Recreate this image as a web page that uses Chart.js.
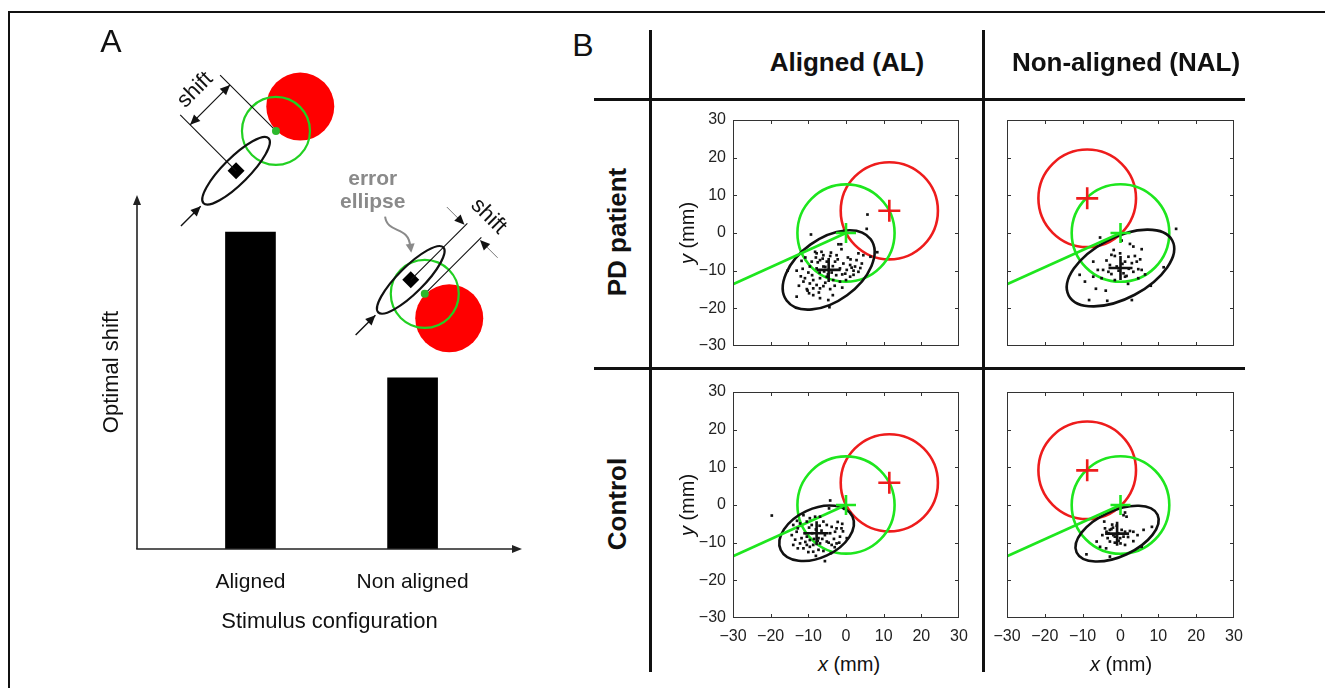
<!DOCTYPE html>
<html>
<head>
<meta charset="utf-8">
<script src="https://cdn.jsdelivr.net/npm/chart.js@4.4.1/dist/chart.umd.min.js"></script>
<style>
  body { margin: 0; background: #fff; width: 1325px; height: 688px; overflow: hidden; position: relative;
         font-family: "Liberation Sans", Arial, sans-serif; color: #111; }
  canvas { position: absolute; }
  .t { position: absolute; transform: translate(-50%, -50%); white-space: nowrap; }
  .rot { transform: translate(-50%, -50%) rotate(-90deg); }
  .rule { position: absolute; background: #111; }
  .big { font-size: 32px; }
  .head { font-size: 26px; font-weight: bold; }
  .ax { font-size: 20px; }
</style>
</head>
<body>
<!-- frame and table rules -->
<div class="rule" style="left:8px;top:11px;width:1317px;height:2px"></div>
<div class="rule" style="left:8px;top:11px;width:2px;height:677px"></div>
<div class="rule" style="left:649px;top:30px;width:3px;height:642px"></div>
<div class="rule" style="left:982px;top:30px;width:3px;height:642px"></div>
<div class="rule" style="left:594px;top:98px;width:651px;height:3px"></div>
<div class="rule" style="left:594px;top:367px;width:651px;height:3px"></div>

<canvas id="cA" width="560" height="688" style="left:0;top:0"></canvas>
<canvas id="cPdAl" width="328" height="262" style="left:650px;top:102px"></canvas>
<canvas id="cPdNal" width="276" height="262" style="left:977px;top:102px"></canvas>
<canvas id="cCtAl" width="328" height="276" style="left:650px;top:374px"></canvas>
<canvas id="cCtNal" width="276" height="276" style="left:977px;top:374px"></canvas>

<div class="t big" style="left:111px;top:41px">A</div>
<div class="t big" style="left:583px;top:45px">B</div>
<div class="t head" style="left:847px;top:62px">Aligned (AL)</div>
<div class="t head" style="left:1126px;top:62px">Non-aligned (NAL)</div>
<div class="t head rot" style="left:617px;top:232px">PD patient</div>
<div class="t head rot" style="left:617px;top:504px">Control</div>
<div class="t ax rot" style="left:687px;top:233px"><i>y</i> (mm)</div>
<div class="t ax rot" style="left:687px;top:505px"><i>y</i> (mm)</div>
<div class="t ax" style="left:849px;top:664px"><i>x</i> (mm)</div>
<div class="t ax" style="left:1121px;top:664px"><i>x</i> (mm)</div>

<script>
Chart.defaults.font.family = '"Liberation Sans", Arial, sans-serif';
Chart.defaults.color = '#111';

// --- Panel A: optimal shift per stimulus configuration ---
const categories = ['Aligned', 'Non aligned'];
const optimalShift = [1.0, 0.54];
const shiftAxisMax = 1.117;

// --- Panel B: data in mm ---
const axisTicks = [-30, -20, -10, 0, 10, 20, 30];
const innerTicks = [-20, -10, 0, 10, 20];
const sightLine = [[-30, -13.6], [0, 0]];
const greenCenter = [0, 0];
const circleRadius = 12.9;
const redCenterAL = [11.5, 5.9];
const redCenterNAL = [-8.8, 9.2];

// error ellipses: [cx, cy, semi-major, semi-minor, angle deg]
const ellipsePdAl = [-4.6, -9.8, 13.8, 8.3, 36];
const ellipsePdNal = [0, -9.3, 15.5, 8, 28];
const ellipseCtAl = [-7.8, -7.5, 10.5, 6.5, 25];
const ellipseCtNal = [-0.9, -7.6, 11.8, 6.0, 25];

const dotsPdAl = [
  [5.7, 4.9], [5.5, 1.1], [-9.3, -0.4], [-2.0, -3.0], [-1.3, -3.0], [-1.2, -4.3], [-8.2, -5.0], [-7.8, -5.4],
  [-6.0, -5.9], [-4.2, -6.1], [-2.5, -5.9], [1.2, -7.0], [2.8, -7.2], [3.3, -5.4], [4.6, -5.9], [6.5, -6.3],
  [8.3, -5.1], [-11.8, -7.4], [-9.1, -7.6], [-6.9, -7.2], [-5.1, -7.6], [-2.9, -7.6], [-0.7, -8.1], [1.1, -8.5],
  [2.4, -8.9], [-13.1, -10.0], [-9.6, -8.9], [-7.8, -9.4], [-6.0, -8.9], [-1.6, -9.4], [0.2, -9.8], [2.0, -10.0],
  [3.3, -10.3], [-10.9, -12.0], [-8.7, -12.5], [-6.9, -12.0], [-5.1, -11.6], [-3.4, -12.5], [-1.6, -12.9],
  [-11.3, -12.9], [-9.6, -13.4], [-7.8, -13.8], [-6.0, -14.1], [-10.4, -14.9], [-10.2, -15.3], [-8.7, -14.7],
  [-6.9, -14.7], [-4.2, -14.9], [-13.1, -16.9], [-8.7, -16.5], [-6.9, -17.3], [-4.7, -17.8], [-4.4, -19.7],
  [1.1, -11.6], [4.2, -8.1], [2.0, -11.1], [-5.5, -9.0], [-3.8, -10.5], [-4.8, -11.0], [-2.2, -7.0],
  [-7.0, -10.5], [-10.0, -10.5], [-12.0, -11.5], [-3.0, -14.0], [-1.0, -11.0], [0.5, -6.5], [-6.5, -5.0],
  [-15.5, -10.0], [-8.0, -6.5], [-3.5, -8.8], [-5.8, -10.2], [-2.6, -11.2], [-9.0, -11.2], [-11.5, -9.5],
  [-7.2, -15.8], [-5.5, -13.2], [-0.2, -10.8], [1.5, -9.2], [3.8, -9.3], [-4.0, -5.2], [-12.5, -14.0],
  [-9.8, -16.0], [-3.5, -16.5], [-1.0, -14.5], [0.0, -12.5], [-7.5, -7.8], [-6.2, -6.8], [-10.8, -6.5]
];
const dotsPdNal = [
  [14.7, 1.1], [-5.4, -1.2], [0.3, -2.0], [2.5, -2.9], [3.4, -3.6], [5.6, -4.3], [-2.4, -5.8], [-1.5, -6.1],
  [-0.1, -5.4], [2.1, -6.3], [3.8, -6.1], [5.2, -7.0], [4.3, -7.6], [-7.2, -7.6], [-3.7, -7.3], [-2.8, -8.5],
  [-1.0, -8.9], [1.2, -7.6], [3.0, -8.0], [4.7, -9.6], [5.6, -9.8], [-4.6, -9.8], [-3.2, -10.3], [-2.4, -10.9],
  [0.8, -10.7], [1.2, -11.6], [1.6, -11.4], [3.4, -10.3], [11.4, -9.1], [-10.8, -11.1], [-9.4, -12.9],
  [-7.2, -11.6], [-5.0, -12.0], [4.7, -12.0], [-3.9, -15.3], [-8.3, -17.8], [-3.5, -18.0], [3.0, -17.8],
  [-1.8, -4.5], [0.5, -8.2], [-0.5, -10.0], [2.2, -9.5], [-6.0, -9.8], [-1.5, -12.5], [2.0, -13.5],
  [6.5, -11.0], [8.0, -14.0], [-6.5, -14.8]
];
const dotsCtAl = [
  [-19.7, -2.8], [-4.2, 1.2], [-4.5, -0.9], [-11.3, -2.7], [-9.6, -3.5], [-8.2, -3.1], [-6.9, -3.1], [-6.0, -4.4],
  [-14.0, -5.3], [-12.2, -4.9], [-10.4, -4.4], [-9.1, -5.3], [-5.1, -5.3], [-3.8, -5.8], [-2.5, -6.2], [-1.2, -6.2],
  [-14.4, -8.0], [-13.1, -7.1], [-11.8, -8.8], [-10.4, -8.4], [-9.6, -9.3], [-7.3, -8.8], [-5.6, -8.0],
  [-4.2, -7.5], [-2.9, -7.1], [-1.6, -8.4], [0.2, -8.8], [-14.0, -10.6], [-12.2, -10.2], [-10.4, -10.6],
  [-9.6, -11.1], [-8.7, -10.6], [-6.9, -10.2], [-5.1, -9.7], [-3.8, -10.6], [-2.5, -10.2], [-11.3, -11.5],
  [-8.7, -12.4], [-7.3, -11.9], [-5.6, -14.9], [-8.0, -6.5], [-6.5, -6.8], [-12.8, -6.2], [-9.0, -7.5],
  [-10.8, -9.8], [-7.5, -9.5], [-3.2, -9.0], [-13.5, -9.2], [-1.0, -5.0], [-0.5, -1.0],
  [-11.0, -7.5], [-8.5, -9.0], [-6.3, -9.0], [-4.6, -10.0], [-3.0, -11.2], [-10.0, -12.5], [-12.8, -11.5],
  [-6.0, -12.2], [-4.0, -12.8], [-7.0, -5.5], [-2.2, -4.5], [-9.8, -6.0], [-13.0, -4.2], [-8.0, -13.5],
  [-1.8, -10.0], [-0.8, -7.0]
];
const dotsCtNal = [
  [0.8, -2.7], [1.6, -3.1], [1.2, -2.0], [-4.3, -4.4], [-4.1, -6.2], [-3.7, -7.1], [-3.2, -7.5], [-2.8, -6.6],
  [-2.4, -6.4], [-1.9, -8.0], [-1.5, -8.4], [-0.6, -7.5], [0.3, -6.6], [1.2, -7.1], [2.5, -6.9], [3.4, -7.1],
  [-3.4, -8.8], [-2.8, -9.7], [-0.1, -8.8], [0.8, -8.4], [1.2, -10.6], [3.4, -9.6], [6.1, -6.6], [8.3, -5.8],
  [-6.3, -9.7], [-5.4, -11.1], [-9.0, -13.1], [-2.8, -13.7], [5.6, -11.1], [-1.0, -5.5], [-2.0, -6.0],
  [-0.5, -9.5], [-1.5, -10.0], [-2.2, -5.2], [0.0, -10.2], [2.0, -8.5], [-3.8, -11.5], [4.5, -8.0], [-4.8, -8.0]
];

const RED = '#ee1c1c';
const GREEN = '#1ee61e';
const INK = '#111';

const toPts = arr => arr.map(([x, y]) => ({ x, y }));
const fmtTick = v => (v < 0 ? '\u2212' + (-v) : String(v));

// --- Panel A drawing helpers (sketch of the stimulus, placed over each bar) ---
const U = [Math.SQRT1_2, -Math.SQRT1_2];  // along the error ellipse
const V = [Math.SQRT1_2, Math.SQRT1_2];   // across it
const mv = (p, d, s) => [p[0] + d[0] * s, p[1] + d[1] * s];

function seg(ctx, p, q, color, w) {
  ctx.beginPath();
  ctx.moveTo(p[0], p[1]);
  ctx.lineTo(q[0], q[1]);
  ctx.strokeStyle = color;
  ctx.lineWidth = w;
  ctx.stroke();
}

function head(ctx, from, to, color, len = 10, half = 4.5) {
  const dx = to[0] - from[0], dy = to[1] - from[1];
  const L = Math.hypot(dx, dy), ux = dx / L, uy = dy / L;
  ctx.beginPath();
  ctx.moveTo(to[0], to[1]);
  ctx.lineTo(to[0] - ux * len - uy * half, to[1] - uy * len + ux * half);
  ctx.lineTo(to[0] - ux * len + uy * half, to[1] - uy * len - ux * half);
  ctx.closePath();
  ctx.fillStyle = color;
  ctx.fill();
}

function label(ctx, text, p, angle, font, color) {
  ctx.save();
  ctx.translate(p[0], p[1]);
  ctx.rotate(angle);
  ctx.font = font;
  ctx.fillStyle = color;
  ctx.textAlign = 'center';
  ctx.textBaseline = 'middle';
  ctx.fillText(text, 0, 0);
  ctx.restore();
}

function stimulus(ctx, E, G, R) {
  ctx.beginPath();
  ctx.arc(R[0], R[1], 34, 0, Math.PI * 2);
  ctx.fillStyle = '#ff0000';
  ctx.fill();
  ctx.beginPath();
  ctx.arc(G[0], G[1], 34, 0, Math.PI * 2);
  ctx.strokeStyle = '#22d022';
  ctx.lineWidth = 2.2;
  ctx.stroke();
  ctx.beginPath();
  ctx.ellipse(E[0], E[1], 46, 13, -Math.PI / 4, 0, Math.PI * 2);
  ctx.strokeStyle = INK;
  ctx.lineWidth = 2.2;
  ctx.stroke();
  ctx.beginPath();
  ctx.moveTo(E[0], E[1] - 8.5);
  ctx.lineTo(E[0] + 8.5, E[1]);
  ctx.lineTo(E[0], E[1] + 8.5);
  ctx.lineTo(E[0] - 8.5, E[1]);
  ctx.closePath();
  ctx.fillStyle = '#000';
  ctx.fill();
  // motion arrow towards the ellipse
  const a0 = mv(E, U, -78), a1 = mv(E, U, -50);
  seg(ctx, a0, a1, INK, 1.4);
  head(ctx, a0, a1, INK);
}

function drawAlignedSketch(ctx, top) {
  const E = [top[0] - 14.4, top[1] - 61.3];
  const G = mv(E, U, 56.4);
  const R = mv(G, U, 34.4);
  stimulus(ctx, E, G, R);
  seg(ctx, E, mv(E, V, -79), INK, 1.1);
  seg(ctx, G, mv(G, V, -79), INK, 1.1);
  const p1 = mv(E, V, -65), p2 = mv(G, V, -65);
  seg(ctx, p1, p2, INK, 1.2);
  head(ctx, p2, p1, INK);
  head(ctx, p1, p2, INK);
  label(ctx, 'shift', mv(mv(E, U, 28.2), V, -86), -Math.PI / 4, '22px "Liberation Sans", Arial', INK);
  ctx.beginPath();
  ctx.arc(G[0], G[1], 4, 0, Math.PI * 2);
  ctx.fillStyle = '#2cb82c';
  ctx.fill();
}

function drawNonAlignedSketch(ctx, top) {
  const E = [top[0] - 1.8, top[1] - 98];
  const G = mv(E, V, 19.8);
  const R = mv(G, V, 34.6);
  stimulus(ctx, E, G, R);
  seg(ctx, E, mv(E, U, 80), INK, 1.1);
  seg(ctx, G, mv(G, U, 80), INK, 1.1);
  const e78 = mv(E, U, 77), g78 = mv(G, U, 77);
  seg(ctx, mv(e78, V, -26), mv(e78, V, -6), '#777', 1);
  head(ctx, mv(e78, V, -26), mv(e78, V, -1), INK);
  seg(ctx, mv(g78, V, 26), mv(g78, V, 6), '#777', 1);
  head(ctx, mv(g78, V, 26), mv(g78, V, 1), INK);
  label(ctx, 'shift', mv(mv(E, U, 100), V, 10), Math.PI / 4, '22px "Liberation Sans", Arial', INK);
  label(ctx, 'error', [E[0] - 38, E[1] - 100.7], 0, 'bold 21px "Liberation Sans", Arial', '#8a8a8a');
  label(ctx, 'ellipse', [E[0] - 38, E[1] - 77.3], 0, 'bold 21px "Liberation Sans", Arial', '#8a8a8a');
  // curved pointer to the ellipse
  const c0 = [E[0] - 25.7, E[1] - 63.3], c3 = [E[0] + 0.5, E[1] - 27];
  ctx.beginPath();
  ctx.moveTo(c0[0], c0[1]);
  ctx.bezierCurveTo(E[0] - 23, E[1] - 45, E[0] - 2, E[1] - 55, c3[0] - 1, c3[1] - 6);
  ctx.strokeStyle = '#8a8a8a';
  ctx.lineWidth = 2;
  ctx.stroke();
  head(ctx, [c3[0] - 1.5, c3[1] - 12], c3, '#8a8a8a', 9, 4.5);
  ctx.beginPath();
  ctx.arc(G[0], G[1], 4, 0, Math.PI * 2);
  ctx.fillStyle = '#2cb82c';
  ctx.fill();
}

const axesArrows = {
  id: 'axesArrows',
  afterDatasetsDraw(chart) {
    const { ctx, chartArea: a } = chart;
    ctx.save();
    seg(ctx, [a.left, a.bottom], [a.left, a.top + 6], '#222', 1.6);
    head(ctx, [a.left, a.bottom], [a.left, a.top], '#222', 10, 4);
    seg(ctx, [a.left - 0.8, a.bottom], [a.right - 6, a.bottom], '#222', 1.6);
    head(ctx, [a.left, a.bottom], [a.right, a.bottom], '#222', 10, 4);
    ctx.restore();
  }
};

const sketches = {
  id: 'sketches',
  afterDatasetsDraw(chart) {
    const { ctx, scales: { x, y } } = chart;
    const tops = categories.map((c, i) => [x.getPixelForValue(i + 1), y.getPixelForValue(optimalShift[i])]);
    ctx.save();
    drawAlignedSketch(ctx, tops[0]);
    drawNonAlignedSketch(ctx, tops[1]);
    ctx.restore();
  }
};

new Chart(document.getElementById('cA'), {
  type: 'bar',
  data: {
    datasets: [{
      data: categories.map((c, i) => ({ x: i + 1, y: optimalShift[i] })),
      backgroundColor: '#000',
      barThickness: 50
    }]
  },
  options: {
    animation: false,
    responsive: false,
    layout: { autoPadding: false, padding: { left: 0, top: 195, right: 38, bottom: 0 } },
    plugins: { legend: { display: false }, tooltip: { enabled: false } },
    scales: {
      x: {
        type: 'linear', min: 0.3, max: 2.675, offset: false,
        grid: { display: false, drawTicks: false },
        border: { display: false },
        afterBuildTicks: s => { s.ticks = categories.map((c, i) => ({ value: i + 1 })); },
        afterFit: s => { s.height = 139; },
        ticks: { callback: v => categories[v - 1], font: { size: 21 }, color: INK, padding: 21, autoSkip: false, maxRotation: 0 },
        title: { display: true, text: 'Stimulus configuration', font: { size: 22 }, color: INK, padding: { top: 0, bottom: 53 } }
      },
      y: {
        min: 0, max: shiftAxisMax,
        ticks: { display: false },
        grid: { display: false, drawTicks: false },
        border: { display: false },
        afterFit: s => { s.width = 137; },
        title: { display: true, text: 'Optimal shift', font: { size: 22 }, color: INK, padding: { top: 99, bottom: 0 } }
      }
    }
  },
  plugins: [axesArrows, sketches]
});

// --- Panel B scatter plots ---
function ringsPlugin(p) {
  return {
    id: 'rings',
    beforeDatasetsDraw(chart) {
      const { ctx, scales: { x, y } } = chart;
      const k = Math.abs(x.getPixelForValue(1) - x.getPixelForValue(0));
      ctx.save();
      ctx.lineWidth = 2.6;
      [[p.red, RED], [greenCenter, GREEN]].forEach(([c, col]) => {
        ctx.beginPath();
        ctx.arc(x.getPixelForValue(c[0]), y.getPixelForValue(c[1]), circleRadius * k, 0, Math.PI * 2);
        ctx.strokeStyle = col;
        ctx.stroke();
      });
      const [cx, cy, a, b, ang] = p.ellipse;
      ctx.beginPath();
      ctx.ellipse(x.getPixelForValue(cx), y.getPixelForValue(cy), a * k, b * k, -ang * Math.PI / 180, 0, Math.PI * 2);
      ctx.strokeStyle = INK;
      ctx.stroke();
      ctx.restore();
    },
    afterDatasetsDraw(chart) {
      const { ctx, chartArea: ar, scales: { x, y } } = chart;
      ctx.save();
      ctx.strokeStyle = '#333';
      ctx.lineWidth = 1;
      ctx.strokeRect(ar.left + 0.5, ar.top + 0.5, ar.width - 1, ar.height - 1);
      ctx.beginPath();
      innerTicks.forEach(v => {
        const px = Math.round(x.getPixelForValue(v)) + 0.5;
        const py = Math.round(y.getPixelForValue(v)) + 0.5;
        ctx.moveTo(px, ar.bottom); ctx.lineTo(px, ar.bottom - 4);
        ctx.moveTo(px, ar.top); ctx.lineTo(px, ar.top + 4);
        ctx.moveTo(ar.left, py); ctx.lineTo(ar.left + 4, py);
        ctx.moveTo(ar.right, py); ctx.lineTo(ar.right - 4, py);
      });
      ctx.stroke();
      ctx.restore();
    }
  };
}

function axis(showLabels, size, horizontal) {
  return {
    type: 'linear', min: -30, max: 30,
    afterBuildTicks: s => { s.ticks = axisTicks.map(v => ({ value: v })); },
    ticks: { display: showLabels, padding: horizontal ? 9 : 7, color: '#222', font: { size: 16 },
             callback: fmtTick, autoSkip: false, maxRotation: 0 },
    grid: { display: false, drawTicks: false },
    border: { display: false },
    afterFit: s => { if (horizontal) s.height = size; else s.width = size; }
  };
}

function makePanel(id, p, opt) {
  new Chart(document.getElementById(id), {
    type: 'scatter',
    data: {
      datasets: [
        { data: toPts([p.ellipse]), pointStyle: 'cross', pointRadius: 12, borderColor: INK, borderWidth: 2.6 },
        { data: toPts([p.red]), pointStyle: 'cross', pointRadius: 11, borderColor: RED, borderWidth: 2.6 },
        { data: toPts([greenCenter]), pointStyle: 'cross', pointRadius: 10, borderColor: GREEN, borderWidth: 2.6 },
        { data: toPts(p.dots), pointStyle: 'rect', pointRadius: 1.9, backgroundColor: INK, borderWidth: 0 },
        { data: toPts(sightLine), showLine: true, borderColor: GREEN, borderWidth: 2.6, pointRadius: 0 }
      ]
    },
    options: {
      animation: false,
      responsive: false,
      layout: { autoPadding: false, padding: { left: 0, top: 18, right: 19, bottom: 0 } },
      plugins: { legend: { display: false }, tooltip: { enabled: false } },
      scales: {
        x: axis(opt.showX, opt.xHeight, true),
        y: axis(opt.showY, opt.yWidth, false)
      }
    },
    plugins: [ringsPlugin(p)]
  });
}

makePanel('cPdAl', { dots: dotsPdAl, ellipse: ellipsePdAl, red: redCenterAL },
  { showX: false, showY: true, xHeight: 18, yWidth: 83 });
makePanel('cPdNal', { dots: dotsPdNal, ellipse: ellipsePdNal, red: redCenterNAL },
  { showX: false, showY: false, xHeight: 18, yWidth: 30 });
makePanel('cCtAl', { dots: dotsCtAl, ellipse: ellipseCtAl, red: redCenterAL },
  { showX: true, showY: true, xHeight: 32, yWidth: 83 });
makePanel('cCtNal', { dots: dotsCtNal, ellipse: ellipseCtNal, red: redCenterNAL },
  { showX: true, showY: false, xHeight: 32, yWidth: 30 });
</script>
</body>
</html>
